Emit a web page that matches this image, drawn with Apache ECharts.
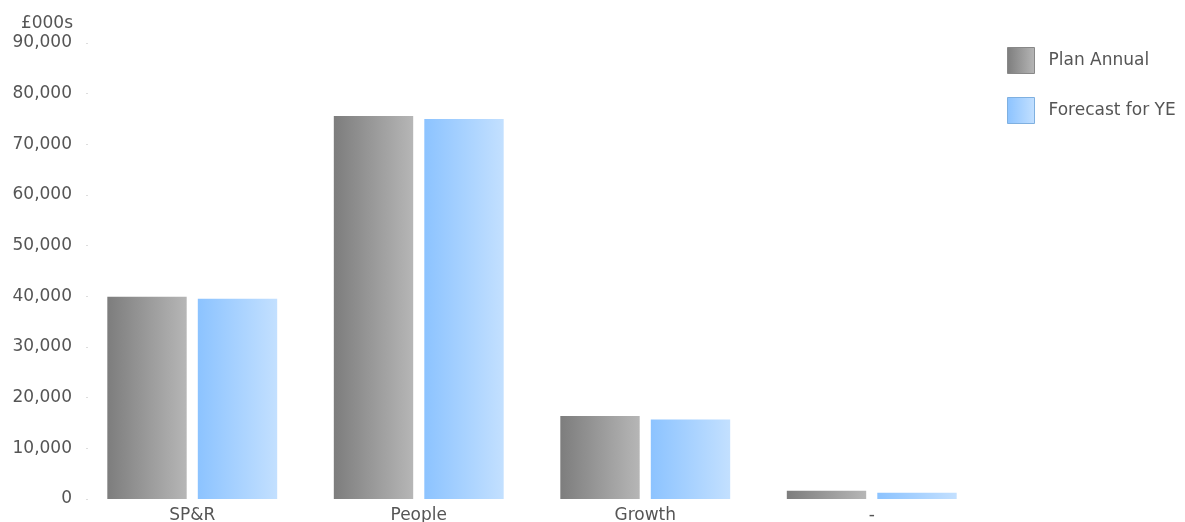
<!DOCTYPE html>
<html>
<head>
<meta charset="utf-8">
<script src="https://cdn.jsdelivr.net/npm/echarts@6/dist/echarts.min.js"></script>
<style>
  html, body { margin: 0; padding: 0; background: #fff; }
  #container { width: 1185px; height: 522px; }
</style>
</head>
<body>
<div id="container"></div>
<script>
// data
var categories = ['SP&R', 'People', 'Growth', '-'];
var planAnnual = [39900, 75600, 16400, 1650];
var forecastYE = [39500, 75000, 15700, 1250];
var seriesNames = ['Plan Annual', 'Forecast for YE'];

var dom = document.getElementById('container');
var myChart = echarts.init(dom, null, { renderer: 'canvas' });
var option;

var font = 'DejaVu Sans';

// left-to-right gradients like the old chart
function hGrad(from, to) {
    return new echarts.graphic.LinearGradient(0, 0, 1, 0, [
        { offset: 0, color: from },
        { offset: 1, color: to }
    ]);
}
var greyGrad = hGrad('#7d7d7d', '#b6b6b6');
var blueGrad = hGrad('#8cc3ff', '#c3e0ff');

option = {
    animation: false,
    backgroundColor: '#ffffff',
    grid: {
        left: 79,
        right: 200,
        top: 43,
        bottom: 23,
        outerBoundsMode: 'none' // labels at the bottom are cut off in the original
    },
    graphic: [
        {
            type: 'text',
            right: 1185 - 73,
            top: 15,
            style: {
                text: '£000s',
                font: '17px "DejaVu Sans"',
                fill: '#555'
            }
        }
    ],
    legend: {
        orient: 'vertical',
        left: 1002,
        top: 42,
        itemWidth: 27,
        itemHeight: 26,
        itemGap: 23,
        icon: 'rect',
        textStyle: {
            fontFamily: font,
            fontSize: 17,
            color: '#555',
            padding: [0, 0, 0, 9]
        },
        data: [
            { name: seriesNames[0], itemStyle: { borderColor: '#888', borderWidth: 1 } },
            { name: seriesNames[1], itemStyle: { borderColor: '#7fb0e0', borderWidth: 1 } }
        ]
    },
    xAxis: {
        type: 'category',
        data: categories,
        axisLine: { show: false },
        axisTick: { show: false },
        axisLabel: {
            fontFamily: font,
            fontSize: 17,
            color: '#555',
            margin: 8
        }
    },
    yAxis: {
        type: 'value',
        min: 0,
        max: 90000,
        interval: 10000,
        offset: -9,
        axisLine: { show: false },
        axisTick: { show: true, length: 2, lineStyle: { color: '#ddd' } },
        splitLine: { show: false },
        axisLabel: {
            fontFamily: font,
            fontSize: 17,
            color: '#555',
            margin: 16,
            formatter: function (v) { return v.toLocaleString('en-GB'); }
        }
    },
    series: [
        {
            name: seriesNames[0],
            type: 'bar',
            data: planAnnual,
            barGap: '14%',
            barCategoryGap: '25%',
            itemStyle: { color: greyGrad }
        },
        {
            name: seriesNames[1],
            type: 'bar',
            data: forecastYE,
            itemStyle: { color: blueGrad }
        }
    ]
};

if (option && typeof option === 'object') {
    myChart.setOption(option);
}

window.addEventListener('resize', myChart.resize);
</script>
</body>
</html>
